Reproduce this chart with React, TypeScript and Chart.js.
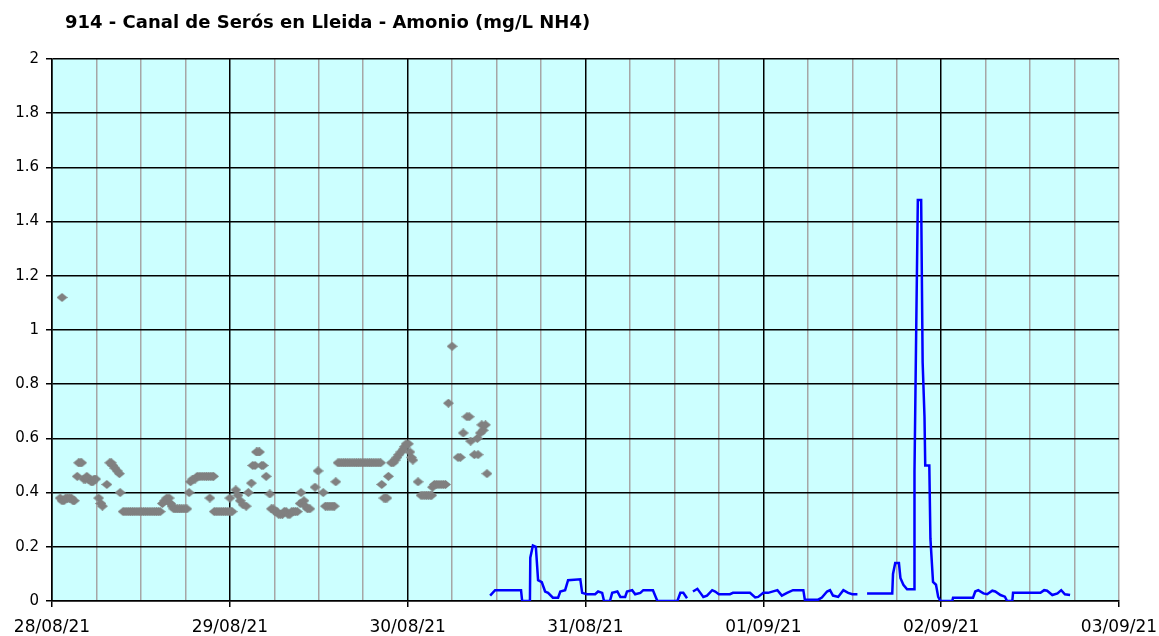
import React, { useEffect, useRef } from 'react';
import { Chart, registerables } from 'chart.js';

Chart.register(...registerables);

const titleText = '914 - Canal de Serós en Lleida - Amonio (mg/L NH4)';
const dayLabels = ['28/08/21', '29/08/21', '30/08/21', '31/08/21', '01/09/21', '02/09/21', '03/09/21'];

// hours since 28/08/21 00:00 (grey diamonds)
const grayHours = [
  1.35,
  1.1, 1.35, 1.6, 1.85, 2.1, 2.35, 2.6, 2.85, 3.0,
  3.4, 3.6, 3.8, 4.0,
  4.3, 4.5, 4.7, 4.9, 5.1, 5.3, 5.5, 5.7, 5.9,
  6.3, 6.6, 6.8, 7.4, 7.8, 8.0, 8.2, 8.5, 8.8, 9.1, 9.2,
  9.6, 9.85, 10.1, 10.35, 10.6, 10.85, 11.1, 11.35, 11.6, 11.85, 12.1, 12.35, 12.6, 12.85, 13.1, 13.35, 13.6, 13.85, 14.1, 14.35, 14.6,
  14.9, 15.2, 15.5, 15.8, 16.0, 16.2, 16.45, 16.7, 16.95, 17.2, 17.45, 17.7, 17.95, 18.2,
  18.5, 18.7, 19.0, 19.3, 19.6, 19.85, 20.1, 20.35, 20.6, 20.85, 21.1, 21.35, 21.6, 21.8,
  21.3, 21.9, 22.15, 22.4, 22.65, 22.9, 23.15, 23.4, 23.65, 23.9, 24.15, 24.3, 24.0,
  24.8, 25.1, 25.4, 25.8, 26.2, 26.5, 26.9, 27.1, 27.4, 27.6, 27.8, 28.0, 28.3, 28.5, 28.9, 29.4,
  29.6, 29.85, 30.1, 30.35, 30.6, 30.85, 31.1, 31.35, 31.6, 31.85, 32.1, 32.35, 32.6, 32.85, 33.1,
  33.5, 33.6, 34.0, 34.2, 34.5, 34.8, 35.5, 35.9, 36.6, 36.9, 37.15, 37.4, 37.65, 37.9, 38.1, 38.3,
  38.6, 38.85, 39.1, 39.35, 39.6, 39.85, 40.1, 40.35, 40.6, 40.85, 41.1, 41.35, 41.6, 41.85, 42.1, 42.35, 42.6, 42.85, 43.1, 43.35, 43.6, 43.85, 44.1, 44.35,
  44.5, 44.8, 45.0, 45.2, 45.4, 45.8, 46.05, 46.3, 46.55, 46.8, 47.1, 47.4, 47.6, 47.8, 48.1, 48.3, 48.5, 48.7, 49.4,
  49.8, 50.05, 50.3, 50.55, 50.8, 51.05, 51.25, 51.35, 51.6, 51.85, 52.1, 52.35, 52.6, 52.85, 53.1,
  53.5, 54.0, 54.8, 55.1, 55.5, 56.0, 56.3, 56.5, 57.0, 57.4, 57.5, 57.8, 58.0, 58.2, 58.5, 58.7,
];
const grayValues = [
  1.12,
  0.38, 0.37, 0.37, 0.38, 0.38, 0.38, 0.38, 0.37, 0.37,
  0.46, 0.51, 0.51, 0.51,
  0.45, 0.45, 0.46, 0.45, 0.45, 0.44, 0.44, 0.45, 0.45,
  0.38, 0.36, 0.35, 0.43, 0.51, 0.51, 0.50, 0.49, 0.48, 0.47, 0.40,
  0.33, 0.33, 0.33, 0.33, 0.33, 0.33, 0.33, 0.33, 0.33, 0.33, 0.33, 0.33, 0.33, 0.33, 0.33, 0.33, 0.33, 0.33, 0.33, 0.33, 0.33,
  0.36, 0.37, 0.38, 0.38, 0.36, 0.35, 0.34, 0.34, 0.34, 0.34, 0.34, 0.34, 0.34, 0.34,
  0.40, 0.44, 0.45, 0.45, 0.46, 0.46, 0.46, 0.46, 0.46, 0.46, 0.46, 0.46, 0.46, 0.46,
  0.38, 0.33, 0.33, 0.33, 0.33, 0.33, 0.33, 0.33, 0.33, 0.33, 0.33, 0.33, 0.38,
  0.41, 0.39, 0.37, 0.355, 0.35, 0.40, 0.435, 0.50, 0.50, 0.55, 0.55, 0.55, 0.50, 0.50, 0.46, 0.395,
  0.34, 0.34, 0.33, 0.33, 0.32, 0.32, 0.32, 0.33, 0.33, 0.32, 0.32, 0.33, 0.33, 0.33, 0.33,
  0.36, 0.40, 0.37, 0.35, 0.34, 0.34, 0.42, 0.48, 0.40, 0.35, 0.35, 0.35, 0.35, 0.35, 0.35, 0.44,
  0.51, 0.51, 0.51, 0.51, 0.51, 0.51, 0.51, 0.51, 0.51, 0.51, 0.51, 0.51, 0.51, 0.51, 0.51, 0.51, 0.51, 0.51, 0.51, 0.51, 0.51, 0.51, 0.51, 0.51,
  0.43, 0.38, 0.38, 0.38, 0.46, 0.51, 0.51, 0.52, 0.53, 0.54, 0.55, 0.56, 0.57, 0.58, 0.58, 0.55, 0.53, 0.52, 0.44,
  0.39, 0.39, 0.39, 0.39, 0.39, 0.39, 0.39, 0.42, 0.43, 0.43, 0.43, 0.43, 0.43, 0.43, 0.43,
  0.73, 0.94, 0.53, 0.53, 0.62, 0.68, 0.68, 0.59, 0.54, 0.60, 0.54, 0.62, 0.65, 0.63, 0.65, 0.47,
];

// blue line (null = gap)
const blueHours = [
  59.13, 59.8, 63.3, 63.45, 64.5, 64.55, 64.9, 65.3, 65.6, 66.1, 66.55, 66.95, 67.6, 68.3, 68.6, 69.25,
  69.65, 71.3, 71.55, 72.2, 73.3, 73.7, 74.25, 74.5, 75.3, 75.6, 76.3, 76.7, 77.35, 77.6, 78.3, 78.7,
  79.4, 79.8, 81.1, 81.7, 84.4, 84.8, 85.2, 85.7, 86.1, 86.5, 87.1, 87.5, 87.9, 88.4, 89.1, 89.5, 90.0,
  91.5, 91.9, 94.2, 94.9, 95.3, 96.0, 96.65, 97.9, 98.5, 99.2, 100.0, 101.4, 101.6, 103.4, 103.9, 104.6,
  105.0, 105.4, 106.1, 106.8, 107.45, 108.0, 108.7, 109.3, 110.0, 113.4, 113.5, 113.8, 114.3, 114.5,
  114.9, 115.4, 116.35, 116.4, 116.6, 116.85, 117.3, 117.5, 117.75, 117.85, 118.4, 118.55, 118.9, 119.3,
  119.6, 119.9, 121.5, 121.6, 124.3, 124.6, 125.0, 125.7, 126.2, 126.9, 127.3, 128.0, 128.6, 128.9,
  129.6, 129.7, 133.4, 133.9, 134.3, 135.0, 135.7, 136.2, 136.7, 137.4,
];
const blueValues: (number | null)[] = [
  0.02, 0.04, 0.04, 0.0, 0.0, 0.16, 0.205, 0.20, 0.077, 0.07, 0.035, 0.03, 0.012, 0.012, 0.035, 0.04,
  0.077, 0.08, 0.03, 0.025, 0.025, 0.035, 0.03, 0.0, 0.0, 0.03, 0.035, 0.015, 0.015, 0.035, 0.04, 0.025,
  0.03, 0.04, 0.04, 0.0, 0.0, 0.03, 0.03, 0.01, null, 0.035, 0.045, 0.03, 0.015, 0.02, 0.04, 0.035, 0.025,
  0.025, 0.03, 0.03, 0.013, 0.015, 0.03, 0.03, 0.04, 0.02, 0.03, 0.04, 0.04, 0.005, 0.005, 0.013, 0.035,
  0.04, 0.02, 0.015, 0.04, 0.03, 0.025, 0.025, null, 0.028, 0.028, 0.10, 0.14, 0.14, 0.085,
  0.06, 0.043, 0.043, 0.48, 0.93, 1.48, 1.48, 0.88, 0.68, 0.50, 0.50, 0.23, 0.07, 0.06,
  0.015, 0.0, 0.0, 0.012, 0.012, 0.035, 0.04, 0.028, 0.025, 0.038, 0.035, 0.022, 0.016, 0.0,
  0.0, 0.03, 0.03, 0.04, 0.038, 0.022, 0.028, 0.04, 0.025, 0.022,
];

export default function App() {
  const ref = useRef<HTMLCanvasElement>(null);

  useEffect(() => {
    const canvas = ref.current;
    if (!canvas) return;

    const marker = document.createElement('canvas');
    marker.width = 11;
    marker.height = 9;
    const m = marker.getContext('2d');
    if (m) {
      m.fillStyle = '#808080';
      m.beginPath();
      m.moveTo(0, 4.5);
      m.lineTo(5.5, 0);
      m.lineTo(11, 4.5);
      m.lineTo(5.5, 9);
      m.closePath();
      m.fill();
    }

    const bgPlugin = {
      id: 'bgTitle',
      beforeDraw(chart: any) {
        const { ctx, chartArea: a } = chart;
        ctx.save();
        ctx.fillStyle = '#ffffff';
        ctx.fillRect(0, 0, chart.width, chart.height);
        ctx.fillStyle = '#CCFFFF';
        ctx.fillRect(a.left, a.top, a.right - a.left, a.bottom - a.top);
        ctx.font = 'bold 18px "DejaVu Sans"';
        ctx.fillStyle = '#000000';
        ctx.textBaseline = 'alphabetic';
        ctx.textAlign = 'left';
        ctx.fillText(titleText, 65, 28);
        ctx.restore();
      },
    };

    const chart = new Chart(canvas, {
      type: 'line',
      data: {
        datasets: [
          {
            label: 'gray',
            data: grayHours.map((h, i) => ({ x: h, y: grayValues[i] })),
            showLine: false,
            pointStyle: marker as any,
            pointRadius: 5,
            borderColor: '#808080',
            backgroundColor: '#808080',
          },
          {
            label: 'blue',
            data: blueHours.map((h, i) => ({ x: h, y: blueValues[i] })) as any,
            borderColor: '#0000FF',
            backgroundColor: '#0000FF',
            borderWidth: 2.5,
            pointRadius: 0,
            spanGaps: false,
            tension: 0,
            fill: false,
          },
        ],
      },
      options: {
        animation: false,
        responsive: false,
        events: [],
        layout: { padding: { left: 0, right: 40, top: 59, bottom: 0 } },
        plugins: {
          legend: { display: false },
          tooltip: { enabled: false },
          title: { display: false },
        },
        scales: {
          x: {
            type: 'linear',
            min: 0,
            max: 144,
            ticks: {
              stepSize: 6,
              autoSkip: false,
              maxRotation: 0,
              color: '#000000',
              font: { family: 'DejaVu Sans', size: 17 },
              padding: 10,
              callback: (v: any) => (Number(v) % 24 === 0 ? dayLabels[Number(v) / 24] : ''),
            },
            grid: {
              color: (c: any) => (c.tick && c.tick.value % 24 === 0 && c.tick.value !== 144 ? '#000000' : '#A6A6A6'),
              tickColor: (c: any) => (c.tick && c.tick.value % 24 === 0 ? '#000000' : 'rgba(0,0,0,0)'),
              lineWidth: 1.5,
              tickLength: 6,
            },
            border: { color: '#000000', width: 1.5 },
            afterFit: (s: any) => {
              s.height = 35;
              s.paddingLeft = 0;
              s.paddingRight = 0;
            },
          },
          y: {
            min: 0,
            max: 2,
            ticks: {
              stepSize: 0.2,
              color: '#000000',
              font: { family: 'DejaVu Sans', size: 15 },
              padding: 7,
              callback: (v: any) => String(Math.round(Number(v) * 10) / 10),
            },
            grid: { color: '#000000', lineWidth: 1.5, tickLength: 6 },
            border: { color: '#000000', width: 1.5 },
            afterFit: (s: any) => {
              s.width = 52;
              s.paddingTop = 0;
              s.paddingBottom = 0;
            },
          },
        },
      },
      plugins: [bgPlugin],
    });

    return () => chart.destroy();
  }, []);

  return (
    <div style={{ position: 'absolute', left: 0, top: 0 }}>
      <canvas ref={ref} width={1159} height={636} style={{ display: 'block' }} />
    </div>
  );
}
